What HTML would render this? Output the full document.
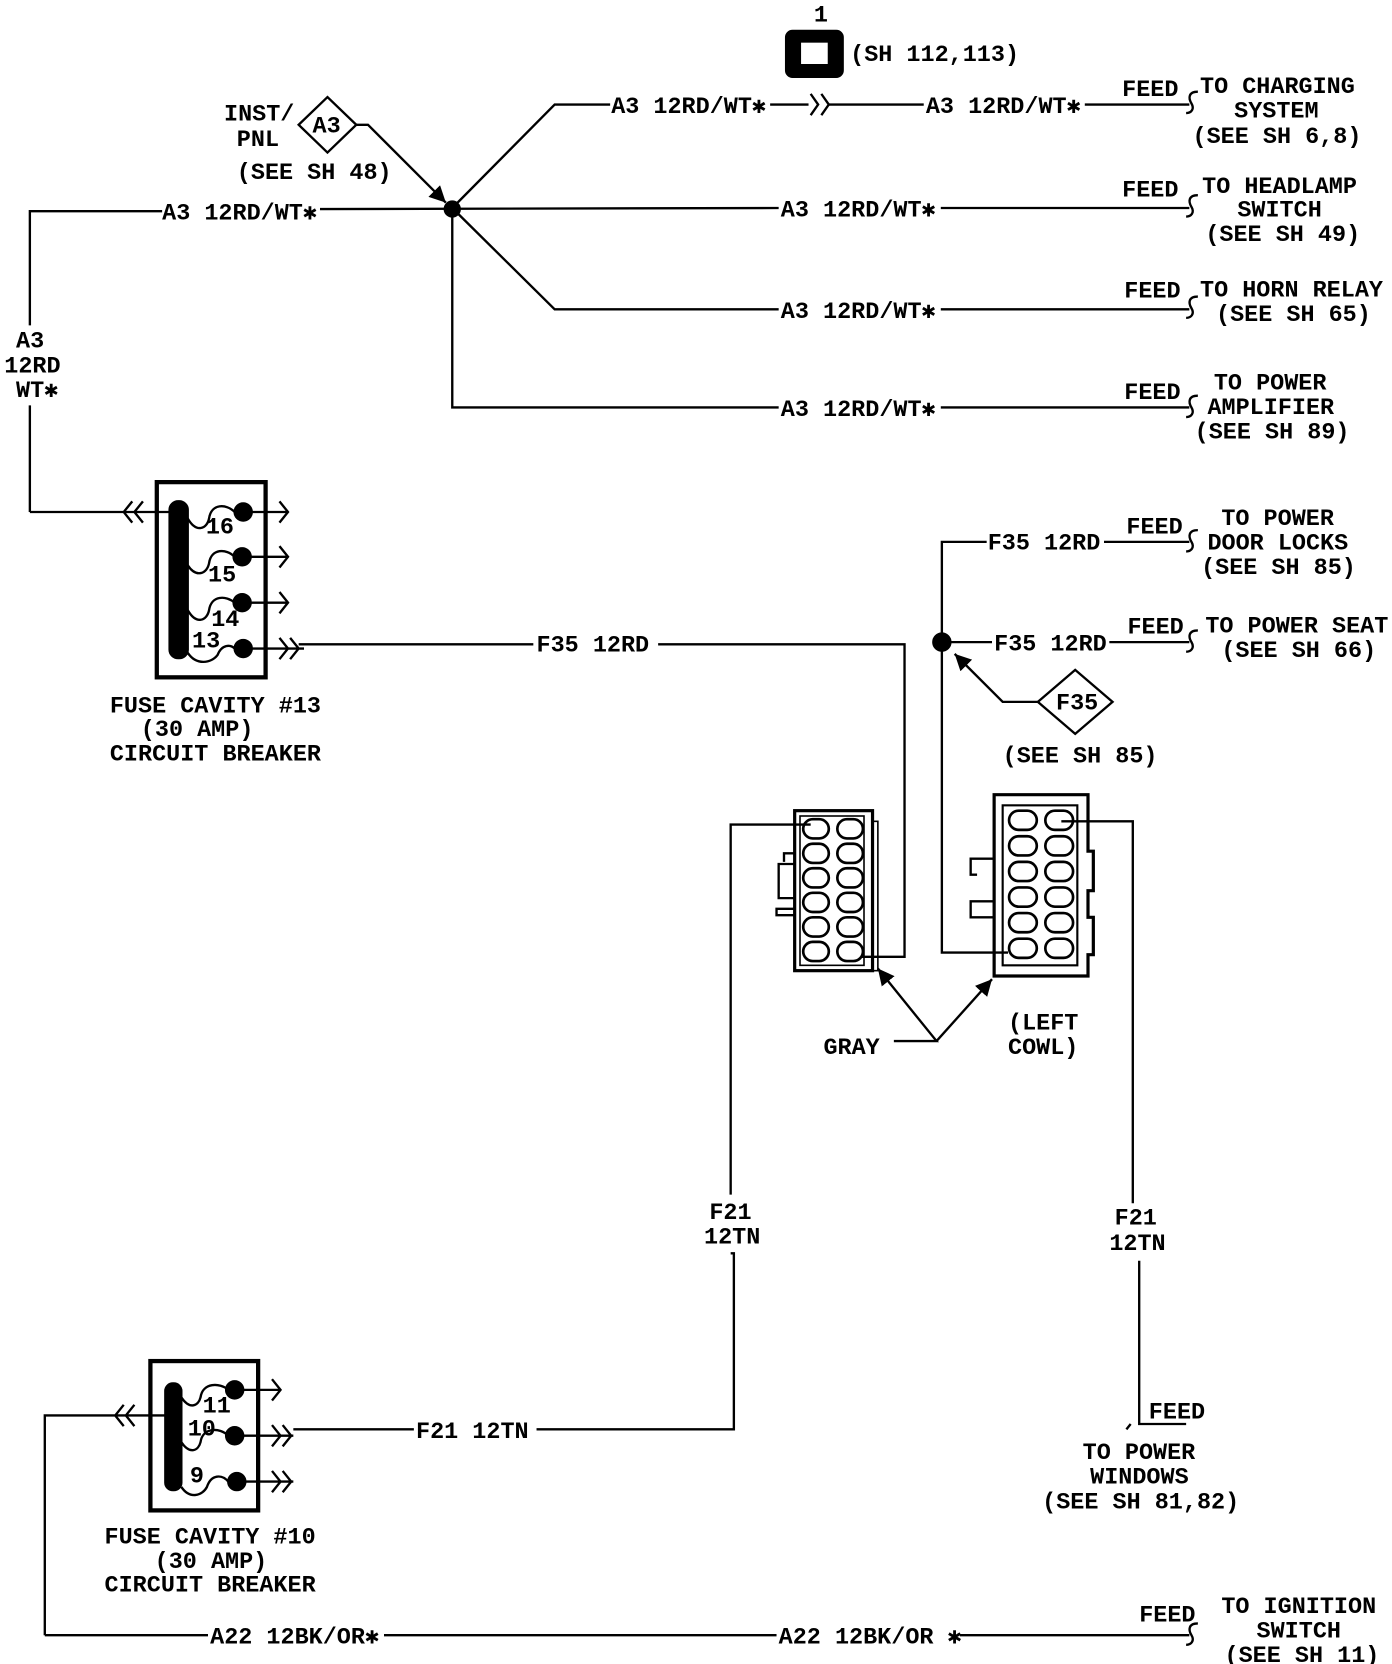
<!DOCTYPE html>
<html><head><meta charset="utf-8"><style>
html,body{margin:0;padding:0;background:#fff}
svg{display:block}
text{font-family:"Liberation Mono","DejaVu Sans Mono",monospace;font-weight:bold;font-size:22px;letter-spacing:0px;fill:#000}
</style></head><body>
<svg width="1392" height="1664" viewBox="0 0 1305 1560" preserveAspectRatio="none" xmlns="http://www.w3.org/2000/svg">
<defs>
<marker id="ah" viewBox="0 0 10 10" refX="10" refY="5" markerWidth="7" markerHeight="7" orient="auto"><path d="M0,0 L10,5 L0,10 z" fill="#000"/></marker>
</defs>
<g stroke="#000" stroke-width="2.2" fill="none">
<rect x="737" y="29" width="53" height="43" rx="6" fill="#000"/>
<rect x="751" y="40" width="25" height="20" fill="#fff" stroke="none"/>
<path d="M424,195 L520,98 L572,98"/>
<path d="M722,98 L758,98"/>
<path d="M760,88 L767,98 L760,108 M770,88 L777,98 L770,108"/>
<path d="M777,98 L866,98 M1017,98 L1115,98"/>
<path d="M28,480 L28,380 M28,305 L28,198 L152,198"/>
<path d="M300,196 L730,195 M882,195 L1115,195"/>
<path d="M424,195 L520,290 L730,290 M882,290 L1115,290"/>
<path d="M424,195 L424,382 L730,382 M882,382 L1115,382"/>
<circle cx="424" cy="196" r="7" fill="#000"/>
<path d="M1123,86 C1114,86 1114,92 1117,97 C1120,102 1117,106 1112,106"/>
<path d="M1123,183 C1114,183 1114,189 1117,194 C1120,199 1117,203 1112,203"/>
<path d="M1123,278 C1114,278 1114,284 1117,289 C1120,294 1117,298 1112,298"/>
<path d="M1123,371 C1114,371 1114,377 1117,382 C1120,387 1117,391 1112,391"/>
<path d="M1123,497 C1114,497 1114,503 1117,508 C1120,513 1117,517 1112,517"/>
<path d="M1123,591 C1114,591 1114,597 1117,602 C1120,607 1117,611 1112,611"/>
<path d="M1123,1522 C1114,1522 1114,1528 1117,1533 C1120,1538 1117,1542 1112,1542"/>
<path d="M307,91 L334,117 L307,143 L280,117 Z"/>
<path d="M334,117 L345,117 L418,190" marker-end="url(#ah)"/>
<rect x="147" y="452" width="102" height="183" stroke-width="4"/>
<rect x="159" y="470" width="17" height="147" rx="8" fill="#000"/>
<path d="M28,480 L118,480 M124,470 L116,480 L124,490 M134,470 L126,480 L134,490 M116,480 L160,480"/>
<g fill="#000"><circle cx="228" cy="480" r="8"/><circle cx="227" cy="522" r="8"/><circle cx="227" cy="565" r="8"/><circle cx="228" cy="608" r="8"/></g>
<path d="M176,486 C184,500 194,496 196,486 C198,472 212,472 220,480"/>
<path d="M176,530 C184,542 194,538 196,528 C198,514 212,514 220,522"/>
<path d="M176,572 C184,586 194,582 196,572 C198,558 212,558 220,565"/>
<path d="M176,612 C184,624 198,622 204,614 C208,604 216,604 220,608"/>
<path d="M228,480 L270,480 M262,470 L270,480 L262,490 M227,522 L270,522 M262,512 L270,522 L262,532 M227,565 L270,565 M262,555 L270,565 L262,575 M228,608 L285,608 M262,598 L270,608 L262,618 M272,598 L280,608 L272,618"/>
<path d="M280,604 L500,604 M617,604 L848,604 L848,897 L808,897"/>
<path d="M925,508 L883,508 L883,893 L945,893"/>
<path d="M1035,508 L1115,508 M883,602 L930,602 M1040,602 L1115,602"/>
<circle cx="883" cy="602" r="8" fill="#000"/>
<path d="M973,658 L1008,628 L1043,658 L1008,688 Z"/>
<path d="M973,658 L940,658 L895,613" marker-end="url(#ah)"/>
<rect x="745" y="760" width="73" height="150" stroke-width="3"/>
<rect x="750" y="765" width="60" height="140" stroke-width="1.5"/>
<g stroke-width="2.5">
<rect x="753" y="768" width="24" height="18" rx="9"/><rect x="785" y="768" width="24" height="18" rx="9"/>
<rect x="753" y="791" width="24" height="18" rx="9"/><rect x="785" y="791" width="24" height="18" rx="9"/>
<rect x="753" y="814" width="24" height="18" rx="9"/><rect x="785" y="814" width="24" height="18" rx="9"/>
<rect x="753" y="837" width="24" height="18" rx="9"/><rect x="785" y="837" width="24" height="18" rx="9"/>
<rect x="753" y="860" width="24" height="18" rx="9"/><rect x="785" y="860" width="24" height="18" rx="9"/>
<rect x="753" y="883" width="24" height="18" rx="9"/><rect x="785" y="883" width="24" height="18" rx="9"/>
</g>
<path d="M745,800 L735,800 L735,808 M745,810 L730,810 L730,842 L745,842 M745,852 L728,852 L728,858 L745,858"/>
<rect x="818" y="770" width="5" height="140" stroke-width="1.5"/>
<path d="M685,1120 L685,773 L760,773"/>
<path d="M932,745 L1020,745 L1020,798 L1025,798 L1025,835 L1020,835 L1020,860 L1025,860 L1025,895 L1020,895 L1020,915 L932,915 Z" stroke-width="3"/>
<rect x="940" y="755" width="70" height="150" stroke-width="2"/>
<g stroke-width="2.5">
<rect x="946" y="760" width="26" height="18" rx="9"/><rect x="980" y="760" width="26" height="18" rx="9"/>
<rect x="946" y="784" width="26" height="18" rx="9"/><rect x="980" y="784" width="26" height="18" rx="9"/>
<rect x="946" y="808" width="26" height="18" rx="9"/><rect x="980" y="808" width="26" height="18" rx="9"/>
<rect x="946" y="832" width="26" height="18" rx="9"/><rect x="980" y="832" width="26" height="18" rx="9"/>
<rect x="946" y="856" width="26" height="18" rx="9"/><rect x="980" y="856" width="26" height="18" rx="9"/>
<rect x="946" y="880" width="26" height="18" rx="9"/><rect x="980" y="880" width="26" height="18" rx="9"/>
</g>
<path d="M932,805 L910,805 L910,820 L916,820 M932,845 L910,845 L910,860 L932,860"/>
<path d="M995,770 L1062,770 L1062,1128 M1068,1182 L1068,1335 L1112,1335 M1056,1340 L1060,1335"/>
<path d="M838,976 L878,976 L823,908" marker-end="url(#ah)"/>
<path d="M878,976 L930,918" marker-end="url(#ah)"/>
<path d="M685,1175 L688,1175 L688,1340 L503,1340 M388,1340 L275,1340"/>
<rect x="141" y="1276" width="101" height="140" stroke-width="4"/>
<rect x="155" y="1297" width="15" height="100" rx="7" fill="#000"/>
<g fill="#000"><circle cx="220" cy="1303" r="8"/><circle cx="220" cy="1346" r="8"/><circle cx="222" cy="1389" r="8"/></g>
<path d="M170,1310 C178,1322 186,1318 188,1310 C190,1296 206,1296 214,1303"/>
<path d="M170,1352 C178,1364 186,1360 188,1352 C190,1338 206,1338 214,1346"/>
<path d="M170,1394 C178,1406 190,1402 194,1394 C198,1382 208,1382 214,1389"/>
<path d="M220,1303 L263,1303 M255,1293 L263,1303 L255,1313 M220,1346 L275,1346 M255,1336 L263,1346 L255,1356 M265,1336 L273,1346 L265,1356 M222,1389 L275,1389 M255,1379 L263,1389 L255,1399 M265,1379 L273,1389 L265,1399"/>
<path d="M42,1533 L42,1327 L110,1327 M116,1317 L108,1327 L116,1337 M126,1317 L118,1327 L126,1337 M110,1327 L155,1327"/>
<path d="M42,1533 L195,1533 M360,1533 L728,1533 M900,1533 L1115,1533"/>
</g>
<g>
<text x="763" y="20" font-size="20">1</text>
<text x="797" y="57">(SH 112,113)</text>
<text x="573" y="106">A3 12RD/WT✱</text>
<text x="868" y="106">A3 12RD/WT✱</text>
<text x="1052" y="90">FEED</text>
<text x="1125" y="87">TO CHARGING</text>
<text x="1157" y="110">SYSTEM</text>
<text x="1118" y="134">(SEE SH 6,8)</text>
<text x="152" y="206">A3 12RD/WT✱</text>
<text x="732" y="203">A3 12RD/WT✱</text>
<text x="1052" y="184">FEED</text>
<text x="1127" y="181">TO HEADLAMP</text>
<text x="1160" y="203">SWITCH</text>
<text x="1130" y="226">(SEE SH 49)</text>
<text x="732" y="298">A3 12RD/WT✱</text>
<text x="1054" y="279">FEED</text>
<text x="1125" y="278">TO HORN RELAY</text>
<text x="1140" y="301">(SEE SH 65)</text>
<text x="732" y="390">A3 12RD/WT✱</text>
<text x="1054" y="374">FEED</text>
<text x="1138" y="365">TO POWER</text>
<text x="1132" y="388">AMPLIFIER</text>
<text x="1120" y="411">(SEE SH 89)</text>
<text x="210" y="113">INST/</text>
<text x="222" y="137">PNL</text>
<text x="293" y="124" font-size="20">A3</text>
<text x="222" y="168">(SEE SH 48)</text>
<text x="15" y="326">A3</text>
<text x="4" y="349">12RD</text>
<text x="15" y="372">WT✱</text>
<text x="193" y="500" font-size="20">16</text>
<text x="195" y="545" font-size="20">15</text>
<text x="198" y="587" font-size="20">14</text>
<text x="180" y="607" font-size="20">13</text>
<text x="103" y="668">FUSE CAVITY #13</text>
<text x="132" y="690">(30 AMP)</text>
<text x="103" y="713">CIRCUIT BREAKER</text>
<text x="503" y="611">F35 12RD</text>
<text x="926" y="515">F35 12RD</text>
<text x="1056" y="500">FEED</text>
<text x="1145" y="492">TO POWER</text>
<text x="1132" y="515">DOOR LOCKS</text>
<text x="1126" y="538">(SEE SH 85)</text>
<text x="932" y="610">F35 12RD</text>
<text x="1057" y="594">FEED</text>
<text x="1130" y="593">TO POWER SEAT</text>
<text x="1145" y="616">(SEE SH 66)</text>
<text x="990" y="665" font-size="20">F35</text>
<text x="940" y="715">(SEE SH 85)</text>
<text x="772" y="988">GRAY</text>
<text x="945" y="965">(LEFT</text>
<text x="945" y="988">COWL)</text>
<text x="665" y="1143">F21</text>
<text x="660" y="1166">12TN</text>
<text x="1045" y="1148">F21</text>
<text x="1040" y="1172">12TN</text>
<text x="1077" y="1330">FEED</text>
<text x="1015" y="1368">TO POWER</text>
<text x="1022" y="1391">WINDOWS</text>
<text x="977" y="1414">(SEE SH 81,82)</text>
<text x="390" y="1348">F21 12TN</text>
<text x="190" y="1324" font-size="20">11</text>
<text x="176" y="1346" font-size="20">10</text>
<text x="178" y="1390" font-size="20">9</text>
<text x="98" y="1447">FUSE CAVITY #10</text>
<text x="145" y="1470">(30 AMP)</text>
<text x="98" y="1492">CIRCUIT BREAKER</text>
<text x="197" y="1541">A22 12BK/OR✱</text>
<text x="730" y="1541">A22 12BK/OR ✱</text>
<text x="1068" y="1520">FEED</text>
<text x="1145" y="1512">TO IGNITION</text>
<text x="1178" y="1535">SWITCH</text>
<text x="1148" y="1558">(SEE SH 11)</text>
</g>
</svg>
</body></html>
